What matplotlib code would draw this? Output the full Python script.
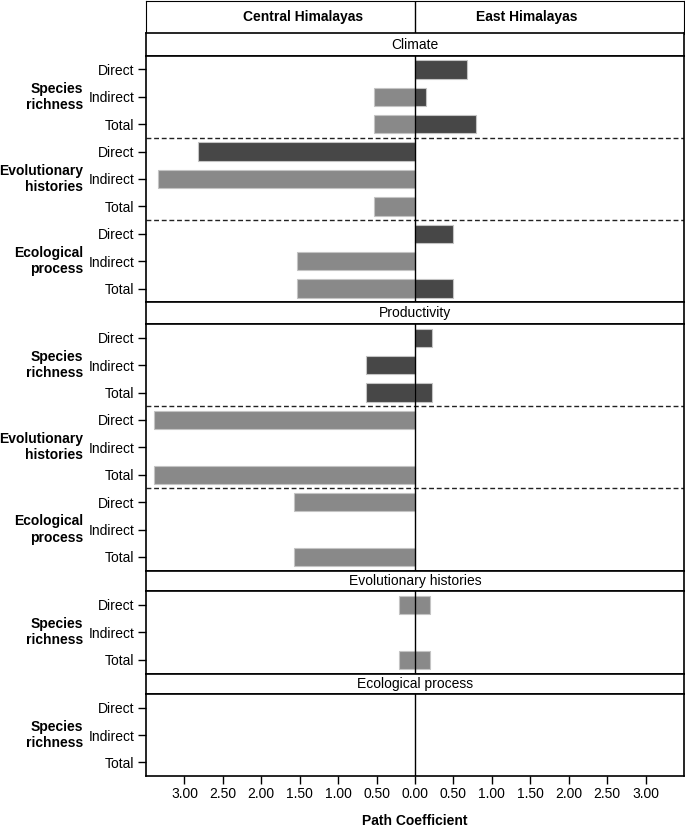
import numpy as np
import matplotlib
matplotlib.use("Agg")
from matplotlib import pyplot as plt
from matplotlib.ticker import FuncFormatter

plt.rcParams['font.family'] = ['Liberation Sans', 'DejaVu Sans']
plt.rcParams['font.size'] = 10

# ---- data ----
regions = ['Central Himalayas', 'East Himalayas']
effects = ['Direct', 'Indirect', 'Total']

climate_groups = ['Species\nrichness', 'Evolutionary\nhistories', 'Ecological\nprocess']
climate_central = [0, 0.53, 0.53, 2.82, 3.34, 0.53, 0, 1.54, 1.54]
climate_central_shade = ['l', 'l', 'l', 'd', 'l', 'l', 'l', 'l', 'l']
climate_east = [0.68, 0.14, 0.79, 0, 0, 0, 0.50, 0, 0.50]
climate_east_shade = ['d'] * 9

prod_groups = ['Species\nrichness', 'Evolutionary\nhistories', 'Ecological\nprocess']
prod_central = [0, 0.64, 0.64, 3.39, 0, 3.39, 1.57, 0, 1.57]
prod_central_shade = ['d', 'd', 'd', 'l', 'l', 'l', 'l', 'l', 'l']
prod_east = [0.22, 0, 0.22, 0, 0, 0, 0, 0, 0]
prod_east_shade = ['d'] * 9

evo_groups = ['Species\nrichness']
evo_central = [0.21, 0, 0.21]
evo_central_shade = ['l'] * 3
evo_east = [0.19, 0, 0.19]
evo_east_shade = ['l'] * 3

eco_groups = ['Species\nrichness']
eco_central = [0, 0, 0]
eco_central_shade = ['l'] * 3
eco_east = [0, 0, 0]
eco_east_shade = ['l'] * 3

tick_values = [-3, -2.5, -2, -1.5, -1, -0.5, 0, 0.5, 1, 1.5, 2, 2.5, 3]

shades = {'d': '#474747', 'l': '#898989'}
XLIM = (-3.5, 3.5)
W, H = 685, 826
LEFT, RIGHT = 146 / W, 684 / W


def box(top, bottom):
    return [LEFT, 1 - bottom / H, RIGHT - LEFT, (bottom - top) / H]


fig = plt.figure(figsize=(W / 100, H / 100), dpi=100)

# header
hax = fig.add_axes(box(1, 33.5))
hax.set_xlim(XLIM)
hax.set_ylim(0, 1)
hax.axvline(0, color='black', lw=1)
hax.text(-1.45, 0.5, regions[0], ha='center', va='center', fontweight='bold')
hax.text(1.45, 0.5, regions[1], ha='center', va='center', fontweight='bold')
hax.set_xticks([])
hax.set_yticks([])


def strip(top, bottom, label):
    sax = fig.add_axes(box(top, bottom))
    sax.set_xlim(XLIM)
    sax.set_ylim(0, 1)
    sax.text(0, 0.5, label, ha='center', va='center')
    sax.set_xticks([])
    sax.set_yticks([])
    for s in sax.spines.values():
        s.set_linewidth(1.2)


def panel(top, bottom, groups, central, cshade, east, eshade, bottom_axis=False):
    ax = fig.add_axes(box(top, bottom))
    n = len(central)
    y = np.arange(n)
    for yi, v, s in zip(y, central, cshade):
        if v > 0:
            ax.barh(yi, -v, height=0.67, color=shades[s], edgecolor='#c4c4c4', lw=0.8)
    for yi, v, s in zip(y, east, eshade):
        if v > 0:
            ax.barh(yi, v, height=0.67, color=shades[s], edgecolor='#c4c4c4', lw=0.8)
    ax.axvline(0, color='black', lw=1, zorder=5)
    for k in range(1, len(groups)):
        ax.axhline(3 * k - 0.5, color='#222222', lw=1, linestyle=(0, (3.5, 2)))
    ax.set_xlim(XLIM)
    ax.set_ylim(n - 0.5, -0.5)
    ax.set_yticks(y)
    ax.set_yticklabels(effects * len(groups))
    ax.tick_params(axis='y', length=6, width=1, pad=2.5)
    for g, name in enumerate(groups):
        ax.text(-0.117, 3 * g + 1, name, transform=ax.get_yaxis_transform(),
                ha='right', va='center', fontweight='bold', linespacing=1.2)
    if bottom_axis:
        ax.set_xticks(tick_values)
        ax.xaxis.set_major_formatter(FuncFormatter(lambda v, p: '%.2f' % abs(v)))
        ax.tick_params(axis='x', length=6, width=1, pad=2)
        ax.set_xlabel('Path Coefficient', fontweight='bold', labelpad=9)
    else:
        ax.set_xticks([])
    for s in ax.spines.values():
        s.set_linewidth(1.2)
    return ax


strip(33.5, 55.7, 'Climate')
panel(55.7, 302.3, climate_groups, climate_central, climate_central_shade,
      climate_east, climate_east_shade)
strip(302.3, 324, 'Productivity')
panel(324, 570.7, prod_groups, prod_central, prod_central_shade,
      prod_east, prod_east_shade)
strip(570.7, 591, 'Evolutionary histories')
panel(591, 673.7, evo_groups, evo_central, evo_central_shade,
      evo_east, evo_east_shade)
strip(673.7, 694.3, 'Ecological process')
panel(694.3, 776, eco_groups, eco_central, eco_central_shade,
      eco_east, eco_east_shade, bottom_axis=True)

fig.savefig('out.png', dpi=100)
